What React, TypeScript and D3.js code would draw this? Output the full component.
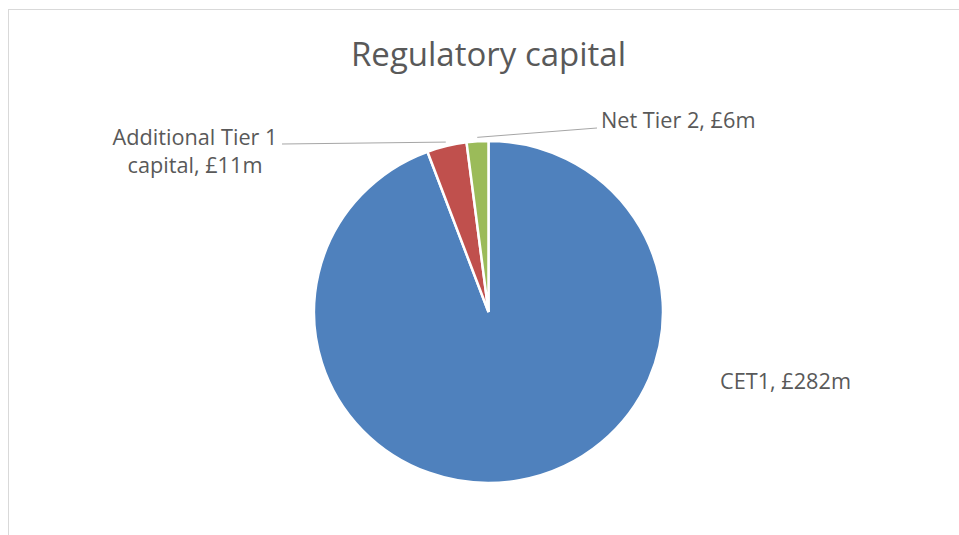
import React from "react";
import * as d3 from "d3";

const categories = ["CET1", "Additional Tier 1 capital", "Net Tier 2"];
const values = [282, 11, 6];
const labelLines = [["CET1, £282m"], ["Additional Tier 1", "capital, £11m"], ["Net Tier 2, £6m"]];
const colors = ["#4F81BD", "#C0504D", "#9BBB59"];
const title = "Regulatory capital";

const W = 959;
const H = 535;
const cx = 488.5;
const cy = 312;
const rx = 174.5;
const ry = 171;

export default function App() {
  const pie = d3.pie<number>().sort(null).value((d) => d)(values);
  const arc = d3.arc<d3.PieArcDatum<number>>().innerRadius(0).outerRadius(rx);
  const sy = ry / rx;

  const edgePoint = (d: d3.PieArcDatum<number>, extra: number) => {
    const a = (d.startAngle + d.endAngle) / 2;
    return [cx + (rx + extra) * Math.sin(a), cy - (ry + extra) * Math.cos(a)];
  };

  // label layout (positions)
  const labelPos = [
    { x: 720, y: 389, anchor: "start" },
    { x: 195, y: 145, anchor: "middle", dy: 27.5 },
    { x: 601, y: 128, anchor: "start" },
  ];
  const leaderEnds: (number[] | null)[] = [null, [282, 144], [597, 128]];

  return (
    <div style={{ position: "absolute", left: 0, top: 0 }}>
      <svg width={W} height={H} style={{ display: "block", background: "#fff" }}>
        <rect x={8.5} y={9.5} width={W + 20} height={H + 20} fill="#fff" stroke="#D9D9D9" strokeWidth={1} />
        <text
          x={cx}
          y={66}
          textAnchor="middle"
          fontFamily="'Open Sans', sans-serif"
          fontSize={33}
          fill="#595959"
        >
          {title}
        </text>
        <g transform={`translate(${cx},${cy}) scale(1,${sy})`}>
          {pie.map((d, i) => (
            <path key={categories[i]} d={arc(d) as string} fill={colors[i]} stroke="#fff" strokeWidth={2.5} vectorEffect="non-scaling-stroke" />
          ))}
        </g>
        {pie.map((d, i) => {
          const end = leaderEnds[i];
          if (!end) return null;
          const [x0, y0] = edgePoint(d, 4);
          return <line key={"l" + i} x1={x0} y1={y0} x2={end[0]} y2={end[1]} stroke="#A6A6A6" strokeWidth={1} />;
        })}
        {labelLines.map((lines, i) => (
          <text
            key={"t" + i}
            x={labelPos[i].x}
            y={labelPos[i].y}
            textAnchor={labelPos[i].anchor as any}
            fontFamily="'Open Sans', sans-serif"
            fontSize={21.7}
            fill="#595959"
          >
            {lines.map((ln, j) => (
              <tspan key={j} x={labelPos[i].x} dy={j === 0 ? 0 : labelPos[i].dy}>
                {ln}
              </tspan>
            ))}
          </text>
        ))}
      </svg>
    </div>
  );
}
